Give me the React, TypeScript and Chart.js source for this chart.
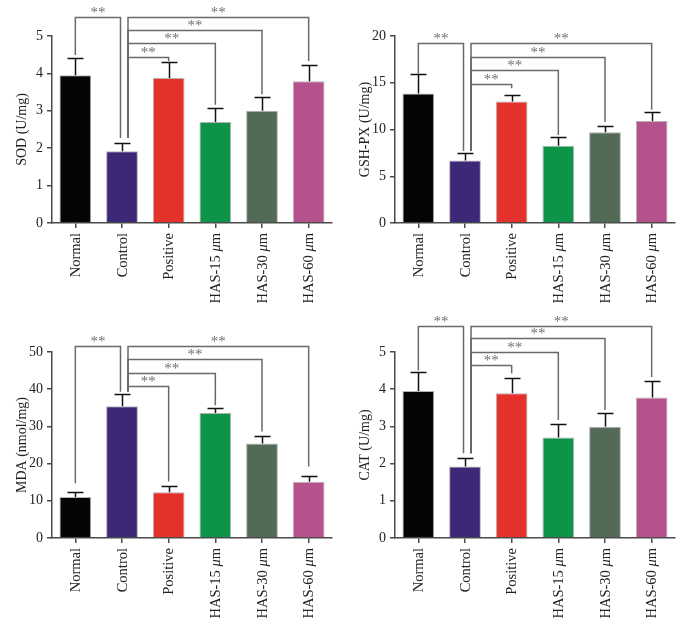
import React, { useEffect, useRef } from "react";
import { Chart, registerables } from "chart.js";

Chart.register(...registerables);

// ---------- data ----------
const categories = ["Normal", "Control", "Positive", "HAS-15 μm", "HAS-30 μm", "HAS-60 μm"];
const barColors = ["#050505", "#3c2877", "#e5312c", "#0d9448", "#536a57", "#b5528b"];

const sodMeans = [3.95, 1.92, 3.88, 2.7, 3.0, 3.79];
const sodErrors = [0.45, 0.23, 0.42, 0.37, 0.37, 0.44];
const gshMeans = [13.86, 6.68, 13.0, 8.25, 9.71, 10.9];
const gshErrors = [2.05, 0.86, 0.7, 0.95, 0.65, 1.0];
const mdaMeans = [11.0, 35.4, 12.3, 33.6, 25.4, 15.1];
const mdaErrors = [1.5, 3.3, 1.8, 1.3, 2.1, 1.7];
const catMeans = [3.95, 1.92, 3.89, 2.7, 2.99, 3.78];
const catErrors = [0.51, 0.23, 0.42, 0.37, 0.38, 0.45];

// significance brackets: [fromIndex, toIndex, topValue, fromLegEnd, toLegEnd]
const sodBrackets = [
  [0, 1, 5.52, 4.49, 2.27],
  [1, 2, 4.45, 2.27, 4.33],
  [1, 3, 4.8, 2.27, 3.16],
  [1, 4, 5.16, 2.27, 3.44],
  [1, 5, 5.52, 2.27, 4.33],
];
const gshBrackets = [
  [0, 1, 19.3, 15.95, 7.7],
  [1, 2, 14.9, 7.7, 14.4],
  [1, 3, 16.4, 7.7, 9.4],
  [1, 4, 17.8, 7.7, 10.8],
  [1, 5, 19.3, 7.7, 12.1],
];
const mdaBrackets = [
  [0, 1, 51.5, 14.7, 39.3],
  [1, 2, 40.8, 39.3, 15.2],
  [1, 3, 44.4, 39.3, 35.7],
  [1, 4, 48.0, 39.3, 28.6],
  [1, 5, 51.5, 39.3, 19.2],
];
const catBrackets = [
  [0, 1, 5.71, 4.5, 2.28],
  [1, 2, 4.64, 2.28, 4.42],
  [1, 3, 5.0, 2.28, 3.17],
  [1, 4, 5.37, 2.28, 3.44],
  [1, 5, 5.71, 2.28, 4.33],
];
const significance = "**";

// ---------- styling ----------
const SERIF = "'Liberation Serif', 'Times New Roman', serif";
const AXIS = "#4a4a4a";
const TEXT = "#222222";
const BRACKET = "#6a6a6a";

type PanelProps = {
  means: number[];
  errors: number[];
  brackets: number[][];
  yTitle: string;
  yMax: number;
  yStep: number;
  box: { left: number; top: number; w: number; h: number };
  area: { left: number; right: number; top: number; bottom: number };
};

function Panel({ means, errors, brackets, yTitle, yMax, yStep, box, area }: PanelProps) {
  const ref = useRef<HTMLCanvasElement>(null);
  useEffect(() => {
    const overlay = {
      id: "overlay",
      afterDatasetsDraw(chart: any) {
        const { ctx } = chart;
        const x = chart.scales.x;
        const y = chart.scales.y;
        const meta = chart.getDatasetMeta(0);
        ctx.save();
        // error bars (upper)
        ctx.strokeStyle = "#111";
        ctx.lineWidth = 1.5;
        meta.data.forEach((bar: any, i: number) => {
          const top = Math.round(y.getPixelForValue(means[i] + errors[i])) + 0.5;
          const bx = Math.round(bar.x) + 0.5;
          ctx.beginPath();
          ctx.moveTo(bx, bar.y);
          ctx.lineTo(bx, top);
          ctx.moveTo(bx - 8, top);
          ctx.lineTo(bx + 8, top);
          ctx.stroke();
        });
        // brackets
        ctx.strokeStyle = BRACKET;
        ctx.lineWidth = 1.5;
        ctx.fillStyle = "#707070";
        ctx.font = `15px ${SERIF}`;
        ctx.textAlign = "center";
        ctx.textBaseline = "alphabetic";
        brackets.forEach((b) => {
          const [a, c, topV, aEnd, cEnd] = b;
          const xa = x.getPixelForValue(a) + (a === 1 ? 6 : 0);
          const xc = x.getPixelForValue(c) + (c === 1 ? -1.5 : 0);
          const yt = Math.round(y.getPixelForValue(topV)) + 0.5;
          ctx.beginPath();
          ctx.moveTo(xa, y.getPixelForValue(aEnd));
          ctx.lineTo(xa, yt);
          ctx.lineTo(xc, yt);
          ctx.lineTo(xc, y.getPixelForValue(cEnd));
          ctx.stroke();
          ctx.fillText(significance, (xa + xc) / 2, yt - 1);
        });
        // x labels (rotated, italic μ)
        ctx.fillStyle = TEXT;
        ctx.textAlign = "left";
        ctx.textBaseline = "middle";
        const upright = `14.5px ${SERIF}`;
        const italic = `italic 14.5px ${SERIF}`;
        chart.data.labels.forEach((lab: string, i: number) => {
          const parts: { t: string; it: boolean }[] = [];
          const segs = lab.split("μ");
          segs.forEach((s, k) => {
            if (s) parts.push({ t: s, it: false });
            if (k < segs.length - 1) parts.push({ t: "μ", it: true });
          });
          let total = 0;
          parts.forEach((p) => {
            ctx.font = p.it ? italic : upright;
            total += ctx.measureText(p.t).width;
          });
          ctx.save();
          ctx.translate(x.getPixelForValue(i) + 1, chart.chartArea.bottom + 10);
          ctx.rotate(-Math.PI / 2);
          let cx = -total;
          parts.forEach((p) => {
            ctx.font = p.it ? italic : upright;
            ctx.fillText(p.t, cx, 0);
            cx += ctx.measureText(p.t).width;
          });
          ctx.restore();
        });
        ctx.restore();
      },
    };

    const chart = new Chart(ref.current as HTMLCanvasElement, {
      type: "bar",
      data: {
        labels: categories,
        datasets: [
          {
            data: means,
            backgroundColor: barColors,
            borderColor: "rgba(0,0,0,0.3)",
            borderWidth: 1,
            barPercentage: 0.68,
            categoryPercentage: 1,
          },
        ],
      },
      options: {
        animation: false,
        responsive: false,
        maintainAspectRatio: false,
        layout: { padding: { left: 0, top: area.top, right: box.w - area.right, bottom: 0 } },
        plugins: { legend: { display: false }, tooltip: { enabled: false } },
        scales: {
          x: {
            offset: true,
            grid: {
              display: true,
              drawOnChartArea: false,
              drawTicks: true,
              tickLength: 5,
              offset: false,
              color: AXIS,
              lineWidth: 1.5,
            },
            border: { display: true, color: AXIS, width: 1.5 },
            ticks: { display: false },
            afterFit: (s: any) => {
              s.height = box.h - area.bottom;
            },
          },
          y: {
            min: 0,
            max: yMax,
            ticks: {
              stepSize: yStep,
              color: TEXT,
              padding: 4,
              font: { family: SERIF, size: 14 },
            },
            grid: {
              display: true,
              drawOnChartArea: false,
              drawTicks: true,
              tickLength: 5,
              color: AXIS,
              lineWidth: 1.5,
            },
            border: { display: true, color: AXIS, width: 1.5 },
            title: {
              display: true,
              text: yTitle,
              color: TEXT,
              font: { family: SERIF, size: 14 },
              padding: { top: 14, bottom: 0 },
            },
            afterFit: (s: any) => {
              s.width = area.left;
            },
          },
        },
      } as any,
      plugins: [overlay],
    });
    return () => chart.destroy();
  }, []);
  return (
    <canvas
      ref={ref}
      width={box.w}
      height={box.h}
      style={{ position: "absolute", left: box.left, top: box.top, width: box.w, height: box.h }}
    />
  );
}

export default function App() {
  const topArea = { left: 52, right: 332, top: 36, bottom: 223 };
  const botArea = { left: 52, right: 332, top: 42, bottom: 228 };
  return (
    <div style={{ position: "absolute", left: 0, top: 0, width: 686, height: 623, background: "#fff", overflow: "hidden" }}>
      <Panel means={sodMeans} errors={sodErrors} brackets={sodBrackets} yTitle="SOD (U/mg)" yMax={5} yStep={1}
        box={{ left: 0, top: 0, w: 343, h: 310 }} area={topArea} />
      <Panel means={gshMeans} errors={gshErrors} brackets={gshBrackets} yTitle="GSH-PX (U/mg)" yMax={20} yStep={5}
        box={{ left: 343, top: 0, w: 343, h: 310 }} area={topArea} />
      <Panel means={mdaMeans} errors={mdaErrors} brackets={mdaBrackets} yTitle="MDA (nmol/mg)" yMax={50} yStep={10}
        box={{ left: 0, top: 310, w: 343, h: 313 }} area={botArea} />
      <Panel means={catMeans} errors={catErrors} brackets={catBrackets} yTitle="CAT (U/mg)" yMax={5} yStep={1}
        box={{ left: 343, top: 310, w: 343, h: 313 }} area={botArea} />
    </div>
  );
}
